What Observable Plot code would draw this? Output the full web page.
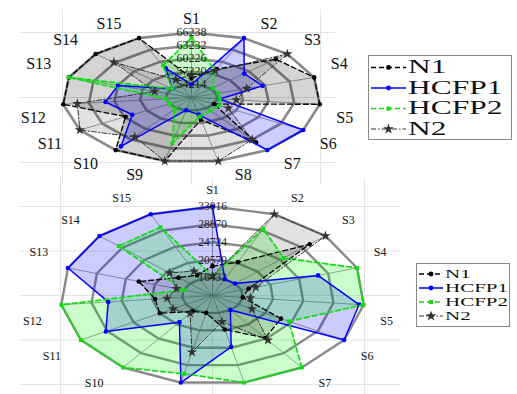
<!DOCTYPE html>
<html><head><meta charset="utf-8">
<script src="https://cdn.jsdelivr.net/npm/d3@7"></script>
<script src="https://cdn.jsdelivr.net/npm/@observablehq/plot@0.6"></script>
<style>
html,body{margin:0;padding:0;background:#fff;}
#wrap{position:relative;width:517px;height:394px;overflow:hidden;background:#fff;}
#top{position:absolute;left:0;top:0;}
#bot{position:absolute;left:0;top:188px;}
svg{display:block;}
</style></head>
<body><div id="wrap"><div id="top"></div><div id="bot"></div></div>
<script>
// ---------- data ----------
const axisLabels = ["S1","S2","S3","S4","S5","S6","S7","S8","S9","S10","S11","S12","S13","S14","S15"];
const seriesNames = ["N1","HCFP1","HCFP2","N2"];

const topTicks = [54214, 57220, 60226, 63232, 66238];
const topN1    = [55717, 58422, 64434, 66238, 66238, 54214, 63984, 56469, 66238, 66238, 60076, 66238, 66238, 66238, 66238];
const topHCFP1 = [54214, 66238, 59475, 59925, 54515, 66238, 66238, 55266, 54214, 65186, 59174, 61278, 60226, 54214, 58573];
const topHCFP2 = [65036, 57972, 54515, 54515, 54515, 54966, 54966, 55717, 62030, 54515, 54214, 54214, 66238, 54214, 59324];
const topN2    = [56469, 57972, 66238, 57972, 56469, 56168, 63232, 66238, 66238, 62481, 66238, 64585, 55717, 63382, 55717];

const botTicks = [16433, 20579, 24724, 28870, 33016];
const botN1    = [19128, 20786, 30114, 17469, 16433, 23066, 24517, 20371, 16433, 16848, 20579, 20164, 22859, 18506, 17469];
const botHCFP1 = [33016, 16433, 16433, 27419, 32394, 33016, 16433, 24517, 33016, 19957, 29077, 26590, 33016, 33016, 33016];
const botHCFP2 = [16848, 29285, 25346, 33016, 33016, 24310, 33016, 33016, 30943, 33016, 33016, 33016, 16433, 29492, 29699];
const botN2    = [16848, 33016, 33016, 18506, 17469, 18506, 25139, 18506, 25761, 17469, 18506, 18506, 17469, 20164, 18506];

// ---------- styles ----------
const FONT = "'Liberation Serif','Times New Roman',serif";
const seriesStyle = {
  N1:    {color:"#000000", dash:"5,3",       width:1.3, symbol:"circle", r:2.3, fill:"#000000", fo:0.17},
  HCFP1: {color:"#0000ff", dash:undefined,   width:1.5, symbol:"circle", r:2.3, fill:"#0000ff", fo:0.2},
  HCFP2: {color:"#11dd11", dash:"5,3",       width:1.7, symbol:"square", r:2.2, fill:"#00ee00", fo:0.2},
  N2:    {color:"#333333", dash:"5,2,1.5,2", width:1.0, symbol:"star",   r:3.2, fill:"#444444", fo:0.16}
};

function stretchText(svg, label, sx) {
  svg.querySelectorAll(`g[aria-label="${label}"] text`).forEach(t => {
    const x = +t.getAttribute("x") || 0, y = +t.getAttribute("y") || 0;
    const tr = t.getAttribute("transform") || "";
    t.setAttribute("transform", `${tr} translate(${x},${y}) scale(${sx},1) translate(${-x},${-y})`);
  });
}

function radar(el, cfg) {
  const {ticks, data} = cfg;
  const n = axisLabels.length;
  const step = (ticks[ticks.length-1] - ticks[0]) / (ticks.length - 1);
  const rad = d3.scaleLinear().domain([ticks[0] - step, ticks[ticks.length-1]]).range([0, 1]);
  const ang = i => i * 2 * Math.PI / n;
  const polar = (r, i) => ({x: r * Math.sin(ang(i)), y: r * Math.cos(ang(i))});
  const rMax = rad(ticks[ticks.length-1]);

  const rings = ticks.flatMap(t => axisLabels.map((a, i) => ({t, ...polar(rad(t), i)})));
  const spokes = axisLabels.map((a, i) => ({a, ...polar(rMax, i)}));
  const labels = axisLabels.map((a, i) => ({a, ...polar(rMax, i)}));
  const eps = 1e-9;
  const hs = d => (d.x > eps ? 1 : d.x < -eps ? -1 : 0);
  const vs = d => (d.y > 0 ? 1 : -1);
  const labelMarks = [];
  for (const h of [-1, 0, 1]) for (const v of [-1, 1]) {
    const grp = labels.filter(d => hs(d) === h && vs(d) === v);
    if (!grp.length) continue;
    labelMarks.push(Plot.text(grp, {
      x: "x", y: "y", text: "a", fontSize: cfg.labelSize, fill: "#111", ariaLabel: "axislabels",
      dx: h > 0 ? cfg.ldxR : h < 0 ? -cfg.ldxL : 0, dy: v > 0 ? -cfg.ldy : cfg.ldy
    }));
  }

  const seriesMarks = [];
  const pts = {};
  seriesNames.forEach(s => { pts[s] = data[s].map((v, i) => ({s, v, ...polar(rad(v), i)})); });
  seriesNames.forEach(s => {
    const st = seriesStyle[s];
    seriesMarks.push(Plot.area(pts[s], {x1: "x", y1: "y", x2: 0, y2: 0, fill: st.fill, fillOpacity: st.fo, curve: "linear-closed"}));
  });
  seriesNames.forEach(s => {
    const st = seriesStyle[s];
    seriesMarks.push(Plot.line(pts[s], {x: "x", y: "y", stroke: st.color, strokeWidth: st.width, strokeDasharray: st.dash, curve: "linear-closed"}));
    seriesMarks.push(Plot.dot(pts[s], {x: "x", y: "y", fill: st.color, stroke: "none", r: st.r, symbol: st.symbol}));
  });

  const svg = Plot.plot({
    width: 517, height: cfg.height, margin: 0,
    style: {background: "transparent", fontFamily: FONT, overflow: "visible"},
    x: {domain: [-1, 1], range: [cfg.cx - cfg.rx, cfg.cx + cfg.rx], axis: null},
    y: {domain: [-1, 1], range: [cfg.cy + cfg.ry, cfg.cy - cfg.ry], axis: null},
    marks: [
      Plot.ruleX(cfg.gridX, {y1: cfg.gridYext[0], y2: cfg.gridYext[1], stroke: "#e4e4e4", strokeWidth: 1}),
      Plot.ruleY(cfg.gridY, {x1: cfg.gridXext[0], x2: cfg.gridXext[1], stroke: "#e4e4e4", strokeWidth: 1}),
      Plot.link(spokes, {x1: 0, y1: 0, x2: "x", y2: "y", stroke: "#8a8a8a", strokeWidth: 0.8}),
      Plot.line(rings, {x: "x", y: "y", z: "t", stroke: "#8a8a8a", strokeWidth: cfg.ringW, curve: "linear-closed"}),
      ...seriesMarks,
      Plot.text(ticks, {x: 0, y: d => rad(d), text: d => String(d), fontSize: cfg.tickSize, fill: "#222", ariaLabel: "ticklabels"}),
      ...labelMarks
    ]
  });
  stretchText(svg, "ticklabels", cfg.tickStretch);
  stretchText(svg, "axislabels", cfg.labelStretch);
  el.appendChild(svg);
}

function legend(parent, o) {
  const svg = d3.select(parent).append("svg")
    .attr("width", o.w).attr("height", o.h)
    .style("position", "absolute").style("left", o.left + "px").style("top", o.top + "px");
  svg.append("rect").attr("x", 0.5).attr("y", 0.5).attr("width", o.w - 1).attr("height", o.h - 1)
    .attr("fill", "#fff").attr("stroke", "#8a8a8a").attr("stroke-width", 1);
  const symType = {circle: d3.symbolCircle, square: d3.symbolSquare, star: d3.symbolStar};
  seriesNames.forEach((s, i) => {
    const st = seriesStyle[s];
    const y = o.y0 + i * o.rowH;
    svg.append("line").attr("x1", o.lx1).attr("x2", o.lx2).attr("y1", y).attr("y2", y)
      .attr("stroke", st.color).attr("stroke-width", st.width)
      .attr("stroke-dasharray", st.dash || null);
    svg.append("path").attr("d", d3.symbol(symType[st.symbol], Math.PI * st.r * st.r * 1.1)())
      .attr("transform", `translate(${(o.lx1 + o.lx2) / 2},${y})`).attr("fill", st.color);
    svg.append("text").text(s).attr("transform", `translate(${o.tx},${y}) scale(${o.stretch},1)`)
      .attr("dominant-baseline", "central").attr("font-family", FONT).attr("font-size", o.fontSize).attr("fill", "#111");
  });
}

radar(document.getElementById("top"), {
  ticks: topTicks, data: {N1: topN1, HCFP1: topHCFP1, HCFP2: topHCFP2, N2: topN2},
  cx: 191, cy: 97, rx: 129, ry: 65, height: 188, ringW: 2.6,
  ldxR: 25, ldxL: 30, ldy: 14,
  tickSize: 12, tickStretch: 1.9, labelSize: 16, labelStretch: 1.35,
  gridX: [-1, 0, 1], gridY: [-1, 0, 1], gridYext: [-1.35, 1.35], gridXext: [-1.33, 1.12]
});
radar(document.getElementById("bot"), {
  ticks: botTicks, data: {N1: botN1, HCFP1: botHCFP1, HCFP2: botHCFP2, N2: botN2},
  cx: 212, cy: 107, rx: 152, ry: 89, height: 206, ringW: 2.4,
  ldxR: 23, ldxL: 29, ldy: 16,
  tickSize: 11.5, tickStretch: 1.4, labelSize: 12, labelStretch: 1.3,
  gridX: [-1, 0, 1], gridY: [-1, -0.5, 0, 0.5, 1], gridYext: [-1.3, 1.3], gridXext: [-1.26, 1.24]
});
const wrap = document.getElementById("wrap");
legend(wrap, {left: 368, top: 55, w: 144, h: 85, y0: 12.5, rowH: 20.5, lx1: 3, lx2: 38, tx: 40, fontSize: 18, stretch: 1.75});
legend(wrap, {left: 416, top: 263, w: 94, h: 64, y0: 11, rowH: 14, lx1: 3, lx2: 27, tx: 29, fontSize: 12, stretch: 1.75});
</script></body></html>
